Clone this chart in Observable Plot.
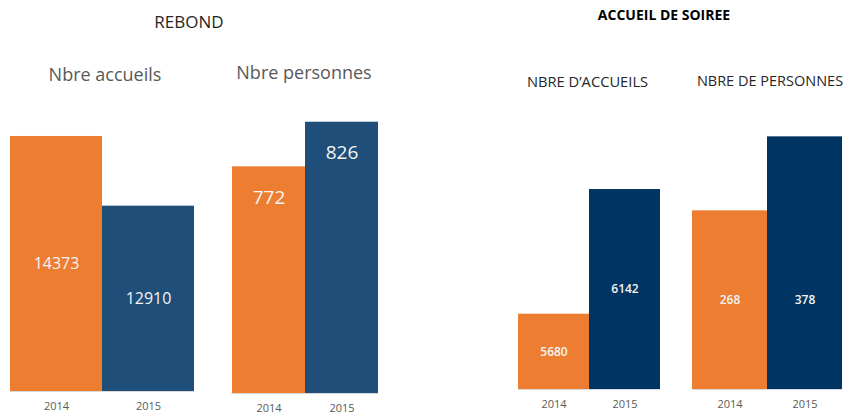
<!DOCTYPE html>
<html>
<head>
<meta charset="utf-8">
<script src="https://cdn.jsdelivr.net/npm/d3@7"></script>
<script src="https://cdn.jsdelivr.net/npm/@observablehq/plot@0.6"></script>
<style>
  html, body { margin: 0; padding: 0; background: #fff; }
  #root { position: relative; width: 846px; height: 415px; overflow: hidden; font-family: 'Open Sans', sans-serif; }
  .t { position: absolute; white-space: nowrap; line-height: 1; transform: translateX(-50%); }
  .p { position: absolute; top: 100px; }
</style>
</head>
<body>
<div id="root"></div>
<script>
// ---- data ----
const years = ["2014", "2015"];
const rebondAccueils = [14373, 12910];
const rebondPersonnes = [772, 826];
const soireeAccueils = [5680, 6142];
const soireePersonnes = [268, 378];

const groupTitles = ["REBOND", "ACCUEIL DE SOIREE"];
const panelTitles = ["Nbre accueils", "Nbre personnes", "NBRE D\u2019ACCUEILS", "NBRE DE PERSONNES"];

// ---- styles ----
const orange = "#ED7D31";
const blueA = "#1F4E79";
const blueB = "#003462";
const root = document.getElementById("root");

function addText(txt, cx, top, css) {
  const d = document.createElement("div");
  d.className = "t";
  d.textContent = txt;
  d.style.left = cx + "px";
  d.style.top = top + "px";
  Object.assign(d.style, css);
  root.appendChild(d);
}

addText(groupTitles[0], 189, 22.4 - 0.53 * 17, {fontSize: "17px", color: "#262626"});
addText(groupTitles[1], 664, 15 - 0.53 * 14, {fontSize: "14px", fontWeight: "700", color: "#000"});
addText(panelTitles[0], 105, 74.7 - 0.53 * 18, {fontSize: "18px", color: "#595959"});
addText(panelTitles[1], 304, 72.3 - 0.53 * 18, {fontSize: "18px", color: "#595959"});
addText(panelTitles[2], 587.5, 82.2 - 0.53 * 14.7, {fontSize: "14.7px", color: "#262626"});
addText(panelTitles[3], 770, 82.2 - 0.53 * 14.7, {fontSize: "14.5px", color: "#262626"});

function panel(values, o) {
  const data = years.map((y, i) => ({year: y, value: values[i]}));
  const lo = o.domain[0];
  let labelY;
  if (o.labelMode === "center") labelY = d => (d.value + lo) / 2;
  else if (o.labelMode === "end") labelY = "value";
  else labelY = d => (d3.min(data, e => e.value) + lo) / 2;
  const chart = Plot.plot({
    width: o.width,
    height: 315,
    marginTop: 0,
    marginBottom: o.marginBottom,
    marginLeft: o.marginLeft,
    marginRight: o.marginRight,
    x: {domain: years, padding: 0, label: null, tickSize: 0, tickPadding: 11},
    y: {domain: o.domain, clamp: true, axis: null},
    color: {domain: years, range: [orange, o.blue]},
    style: {fontFamily: "'Open Sans', sans-serif", fontSize: "11px", color: "#595959", background: "transparent", overflow: "visible"},
    marks: [
      Plot.barY(data, {x: "year", y: "value", fill: "year"}),
      Plot.ruleY([lo], {stroke: "#d9d9d9", strokeWidth: 1.2}),
      Plot.text(data, {
        x: "year", y: labelY, dy: o.dy || 0,
        text: d => String(d.value),
        fill: "#f4f4f4", fontSize: o.fontSize, fontWeight: o.fontWeight || 400
      })
    ]
  });
  const wrap = document.createElement("div");
  wrap.className = "p";
  wrap.style.left = o.left + "px";
  wrap.appendChild(chart);
  root.appendChild(wrap);
}

panel(rebondAccueils, {left: 0, width: 204, marginLeft: 10, marginRight: 10, marginBottom: 24,
  domain: [9020, 15128], blue: blueA, labelMode: "center", fontSize: 16});
panel(rebondPersonnes, {left: 221, width: 168, marginLeft: 10, marginRight: 11, marginBottom: 22,
  domain: [497.5, 852.3], blue: blueA, labelMode: "end", dy: 31, fontSize: 19});
panel(soireeAccueils, {left: 508, width: 162, marginLeft: 10, marginRight: 10, marginBottom: 26,
  domain: [5401, 6472], blue: blueB, labelMode: "center", fontSize: 12, fontWeight: 600});
panel(soireePersonnes, {left: 682, width: 164, marginLeft: 10, marginRight: 4, marginBottom: 26,
  domain: [2.5, 432], blue: blueB, labelMode: "shared", fontSize: 12, fontWeight: 600});
</script>
</body>
</html>
